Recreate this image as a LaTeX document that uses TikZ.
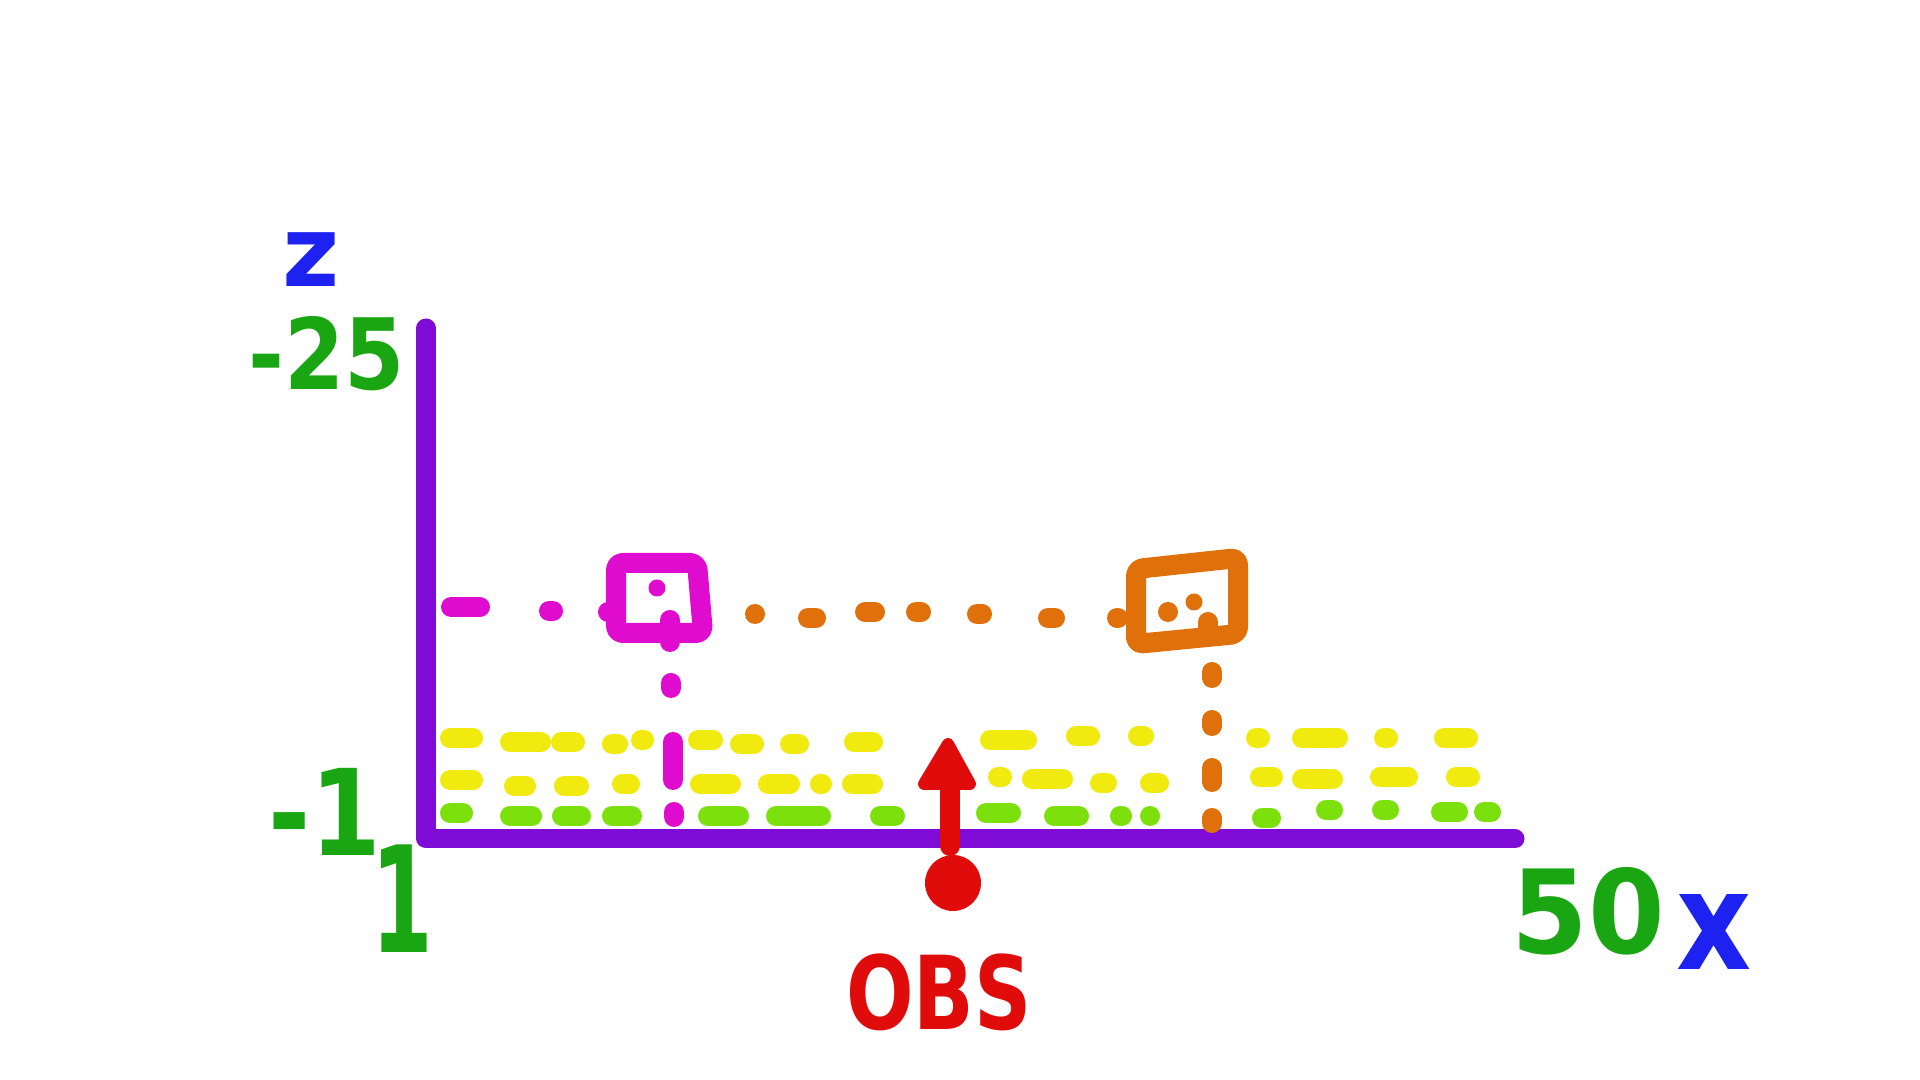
\documentclass[tikz,border=0pt]{standalone}
\usepackage{fontspec}
\setmainfont{DejaVu Sans}
\usetikzlibrary{arrows.meta}
\definecolor{axispurple}{RGB}{126,12,214}
\definecolor{zblue}{RGB}{30,34,240}
\definecolor{tickgreen}{RGB}{26,166,18}
\definecolor{boxmagenta}{RGB}{223,12,207}
\definecolor{boxorange}{RGB}{224,112,10}
\definecolor{layeryellow}{RGB}{240,234,14}
\definecolor{layergreen}{RGB}{124,224,12}
\definecolor{obsred}{RGB}{224,12,12}

\begin{document}
\begin{tikzpicture}[x=0.01cm, y=-0.01cm,
  pen/.style={line width=0.2cm, line cap=round, line join=round},
  lbl/.style={inner sep=0pt, font=\bfseries}]
  \useasboundingbox (0,0) rectangle (1920,1080);
  % --- axes ---
  \coordinate (ztop) at (426,328);
  \coordinate (origin) at (426,839);
  \coordinate (xend) at (1515,839);
  \draw[axispurple, line width=0.19cm, line join=round, line cap=round]
    (ztop) -- (origin) -- (xend);
  % axis labels and ticks
  \node[lbl, zblue, font=\bfseries\fontsize{28}{30}\selectfont] (zlabel) at (311,260) {z};
  \node[lbl, zblue, font=\bfseries\fontsize{39}{40}\selectfont] (xlabel) at (1714,932) {\scalebox{0.85}[1]{x}};
  \node[lbl, tickgreen, font=\bfseries\fontsize{28}{30}\selectfont] (ztopval) at (327,354) {\scalebox{0.88}[1]{-25}};
  \node[lbl, tickgreen, font=\bfseries\fontsize{34}{36}\selectfont] (zlowval) at (325,812) {\scalebox{0.85}[1]{-1}};
  \node[lbl, tickgreen, font=\bfseries\fontsize{42}{44}\selectfont] (xlowval) at (402,899) {\scalebox{0.6}[1]{1}};
  \node[lbl, tickgreen, font=\bfseries\fontsize{33}{35}\selectfont] (xhighval) at (1588,911) {\scalebox{0.95}[1]{50}};
  % --- layers near the ground ---
  \foreach \a/\b/\y in {440/483/738, 500/551/742, 551/585/742, 602/628/744,
                        634/651/740, 688/723/740, 730/764/744, 780/809/744,
                        844/883/742, 980/1037/740, 1066/1100/736, 1128/1154/736,
                        1246/1270/738, 1292/1348/738, 1374/1398/738, 1434/1478/738,
                        440/483/780, 504/536/786, 554/589/786, 612/640/784,
                        690/741/784, 758/800/784, 812/830/784, 842/883/784,
                        988/1012/777, 1022/1073/779, 1090/1117/783, 1140/1169/783,
                        1250/1283/777, 1292/1343/779, 1370/1418/777, 1446/1480/777}{
    \draw[pen, layeryellow] (\a+10,\y) -- (\b-10,\y);
  }
  \foreach \a/\b/\y in {440/473/813, 500/542/816, 552/591/816, 602/642/816,
                        698/749/816, 766/831/816, 870/905/816, 976/1021/813,
                        1044/1089/816, 1112/1130/816, 1140/1160/816, 1252/1281/818,
                        1316/1343/810, 1372/1399/810, 1431/1468/812, 1474/1501/812}{
    \draw[pen, layergreen] (\a+10,\y) -- (\b-10,\y);
  }
  % --- magenta box ---
  \draw[pen, boxmagenta, rounded corners=2pt]
    (616,563) -- (697,563) -- (703,633) -- (616,633) -- cycle;
  \fill[boxmagenta] (657,588) circle (0.085cm);
  \draw[pen, boxmagenta] (670,620) -- (670,642);
  \foreach \a/\b/\y in {441/490/607, 539/563/611, 598/620/612}{
    \draw[pen, boxmagenta] (\a+10,\y) -- (\b-10,\y);
  }
  \foreach \a/\b/\x in {673/698/671, 732/790/673, 802/827/674}{
    \draw[pen, boxmagenta] (\x,\a+10) -- (\x,\b-10);
  }
  % --- orange box ---
  \draw[pen, boxorange, rounded corners=2pt]
    (1136,569) -- (1238,558) -- (1238,634) -- (1136,644) -- cycle;
  \fill[boxorange] (1168,612) circle (0.1cm);
  \fill[boxorange] (1194,602) circle (0.085cm);
  \draw[pen, boxorange] (1208,622) -- (1208,636);
  \foreach \a/\b/\y in {745/765/614, 798/826/618, 855/885/612, 906/931/612,
                        967/992/614, 1038/1065/618, 1108/1127/618}{
    \draw[pen, boxorange] (\a+10,\y) -- (\b-10,\y);
  }
  \foreach \a/\b/\x in {662/688/1212, 710/736/1212, 758/792/1212, 813/828/1212}{
    \draw[pen, boxorange] (\x,\a+10) -- (\x,\b-10);
  }
  % --- observer ---
  \coordinate (obs) at (953,883);
  \coordinate (obstip) at (948,744);
  \fill[obsred] (obs) circle (0.28cm);
  \draw[pen, obsred] (950,846) -- (950,780);
  \filldraw[obsred, line width=0.12cm, line join=round]
    (obstip) -- (970,784) -- (924,784) -- cycle;
  \node[lbl, obsred, font=\bfseries\fontsize{29}{31}\selectfont] (obslabel) at (939,992) {\scalebox{0.78}[1]{OBS}};
\end{tikzpicture}
\end{document}
